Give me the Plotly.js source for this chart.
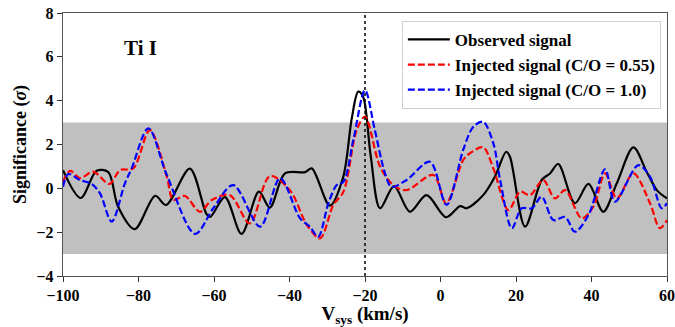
<!DOCTYPE html>
<html>
<head>
<meta charset="utf-8">
<script src="https://cdn.plot.ly/plotly-3.0.1.min.js"></script>
<style>html,body{margin:0;padding:0;background:#fff;}#chart{width:675px;height:327px;}</style>
</head>
<body>
<div id="chart"></div>
<script>
// Observed signal
const obsX = [-100, -95.3, -91.1, -88, -85.4, -81, -75.6, -72.7, -66.4, -62, -61, -57.1, -52.7, -48.1, -45.2, -41.2, -35.9, -34.1, -29.3, -25.8, -23.5, -21.8, -20.5, -18.5, -16, -12.3, -8.1, -3.7, 1.5, 5.2, 6.9, 11.3, 14.4, 17.4, 18.4, 22.4, 26.8, 29, 31.2, 35.6, 39.2, 43.1, 46.7, 51.1, 54.6, 57.3, 60];
const obsY = [0.83, -0.44, 0.8, 0.74, -0.84, -1.86, -0.34, -0.76, 0.9, -1.17, -1.3, -0.4, -2.08, -0.15, -0.88, 0.68, 0.74, 0.91, -0.79, 0.5, 3.2, 4.41, 4.18, 1.5, -0.91, 0.1, -1.07, -0.31, -1.32, -0.81, -0.91, -0.31, 0.53, 1.67, 1.44, -1.75, 0.38, 0.68, 1.11, -0.68, 0.2, -1.07, 0.23, 1.87, 0.76, -0.08, -0.46];
// Injected signal C/O = 0.55
const redX = [-100, -98.1, -95.5, -92, -87.7, -84.9, -81.4, -77, -72.5, -70.8, -67.7, -63.7, -60.6, -55.8, -50.5, -45.2, -39.9, -35.4, -31.9, -28.4, -25.7, -22.2, -20, -16, -12.5, -9, -1.9, 1.5, 6, 7.8, 11.3, 14, 18, 21.1, 23.7, 27.2, 30.3, 33, 37.4, 40.5, 43.6, 46.7, 51.1, 55.5, 58.1, 60];
const redY = [0.3, 0.8, 0.46, 0.76, 0.2, 0.83, 0.91, 2.66, 0.53, -0.53, -0.35, -1.07, -0.53, -0.31, -1.6, 0.56, -0.08, -1.67, -2.28, -0.76, -0.15, 2.66, 3.27, 0.99, 0.15, -0.08, 0.61, -0.68, 1.29, 1.6, 1.87, 0.91, -0.99, -0.15, -0.31, 0.38, -0.46, -0.08, -1.37, -0.84, 0.68, -0.46, 0.68, -0.68, -1.82, -1.45];
// Injected signal C/O = 1.0
const bluX = [-100, -98.6, -95.5, -92.4, -90.2, -87.1, -83.6, -81.8, -77.4, -72.5, -65, -60.2, -54.9, -47.8, -42.5, -37.2, -34.6, -32.4, -29.7, -27.5, -25.7, -23.1, -20, -17.4, -14.7, -13, -9, -2.8, 1.6, 6, 8.7, 11.3, 14, 15.8, 18.9, 21.5, 24.2, 26.8, 29.9, 33, 35.6, 39.2, 43.6, 46.2, 52.4, 55.5, 58.6, 60];
const bluY = [0.07, 0.65, 0.38, 0.2, -0.23, -1.52, 0.23, 0.91, 2.74, 0.61, -2.08, -0.91, 0.15, -1.75, 0.46, -1.37, -1.75, -2.21, -0.68, 0.15, 0.3, 2.2, 4.48, 2.66, 0.68, 0.07, 0.38, 1.21, -0.76, 1.75, 2.81, 3.04, 2.05, 0.38, -1.82, -0.91, -0.91, -0.38, -1.45, -1.3, -1.98, -1.22, 0.87, -0.61, 1.06, 0.53, -0.91, -0.68];
const seriesNames = ['Observed signal', 'Injected signal (C/O = 0.55)', 'Injected signal (C/O = 1.0)'];
const yTicks = [-4, -2, 0, 2, 4, 6, 8];
const xTicks = [-100, -80, -60, -40, -20, 0, 20, 40, 60];

const serif = 'Liberation Serif, Times New Roman, serif';
const traces = [
  {x: obsX, y: obsY, name: '<b>' + seriesNames[0] + '</b>', mode: 'lines', line: {color: 'black', width: 2.2, shape: 'spline', smoothing: 0.9}},
  {x: redX, y: redY, name: '<b>' + seriesNames[1] + '</b>', mode: 'lines', line: {color: 'red', width: 2.2, dash: '7px,3px', shape: 'spline', smoothing: 0.9}},
  {x: bluX, y: bluY, name: '<b>' + seriesNames[2] + '</b>', mode: 'lines', line: {color: 'blue', width: 2.2, dash: '7px,3px', shape: 'spline', smoothing: 0.9}}
];

const layout = {
  width: 675, height: 327,
  margin: {l: 63, r: 8, t: 13, b: 51},
  paper_bgcolor: 'white', plot_bgcolor: 'white',
  showlegend: true,
  legend: {x: 0.561, y: 0.97, xanchor: 'left', yanchor: 'top', bgcolor: 'white', bordercolor: '#d0d0d0', borderwidth: 1,
           font: {family: serif, size: 17, color: 'black'}, tracegroupgap: 0, itemwidth: 42},
  xaxis: {range: [-100, 60], tickvals: xTicks, ticktext: xTicks.map(v => v < 0 ? '\u2212' + Math.abs(v) : String(v)),
          ticks: 'outside', ticklen: 5, tickcolor: '#333', showgrid: false, zeroline: false,
          showline: true, mirror: true, linecolor: '#555', linewidth: 1.2,
          tickfont: {family: serif, size: 16, color: 'black', weight: 'bold'},
          title: {text: '<b>V<sub>sys</sub> (km/s)</b>', font: {family: serif, size: 19, color: 'black'}, standoff: 7}},
  yaxis: {range: [-4, 8], tickvals: yTicks, ticktext: yTicks.map(v => v < 0 ? '\u2212' + Math.abs(v) : String(v)),
          ticks: 'outside', ticklen: 5, tickcolor: '#333', showgrid: false, zeroline: false,
          showline: true, mirror: true, linecolor: '#555', linewidth: 1.2,
          tickfont: {family: serif, size: 16, color: 'black', weight: 'bold'},
          title: {text: '<b>Significance (<i>σ</i>)</b>', font: {family: serif, size: 18, color: 'black'}, standoff: 5}},
  shapes: [
    {type: 'rect', xref: 'paper', yref: 'y', x0: 0, x1: 1, y0: -3, y1: 3, fillcolor: '#c0c0c0', line: {width: 0}, layer: 'below'},
    {type: 'line', xref: 'x', yref: 'paper', x0: -20, x1: -20, y0: 0, y1: 1, line: {color: 'black', width: 1.5, dash: 'dot'}}
  ],
  annotations: [
    {x: -79.5, y: 6.4, xref: 'x', yref: 'y', text: '<b>Ti I</b>', showarrow: false, font: {family: serif, size: 21, color: 'black'}}
  ]
};

Plotly.newPlot('chart', traces, layout, {displayModeBar: false, staticPlot: true});
</script>
</body>
</html>
